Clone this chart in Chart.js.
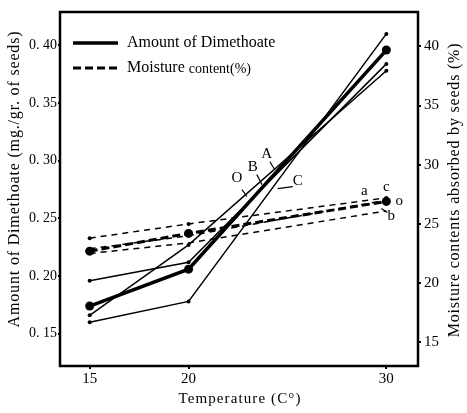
<!DOCTYPE html>
<html>
<head>
<meta charset="utf-8">
<script src="https://cdn.jsdelivr.net/npm/chart.js@4.4.1/dist/chart.umd.min.js"></script>
<style>
  html, body { margin: 0; padding: 0; background: #fff; }
  #wrap { width: 467px; height: 413px; }
</style>
</head>
<body>
<div id="wrap"><canvas id="chart"></canvas></div>
<script>
// temperatures (x) and readings
const temps = [15, 20, 30];

// Amount of Dimethoate (mg./gr. of seeds), left axis
const dimO = [0.166, 0.227, 0.378];
const dimA = [0.174, 0.206, 0.396];
const dimB = [0.196, 0.212, 0.384];
const dimC = [0.160, 0.178, 0.410];

// Moisture content (%), right axis
const moistA = [23.8, 25.0, 27.2];
const moistC = [22.9, 24.0, 27.0];
const moistO = [22.7, 24.2, 26.9];
const moistB = [22.5, 23.4, 26.1];

const xTicks = [15, 20, 30];
const leftTicks = [0.15, 0.20, 0.25, 0.30, 0.35, 0.40];
const rightTicks = [15, 20, 25, 30, 35, 40];

// letter marks next to the curves (x, left-axis value)
const curveLetters = [
  { t: 'O', x: 22.45, y: 0.2853, lx: [22.70, 22.95], ly: [0.275, 0.269] },
  { t: 'B', x: 23.25, y: 0.2948, lx: [23.45, 23.71], ly: [0.288, 0.2793] },
  { t: 'A', x: 23.95, y: 0.3060, lx: [24.11, 24.36], ly: [0.2991, 0.2922] },
  { t: 'C', x: 25.52, y: 0.2820, lx: [25.27, 24.51], ly: [0.2776, 0.2759] },
  { t: 'a', x: 28.89, y: 0.2733 },
  { t: 'c', x: 30.00, y: 0.2776 },
  { t: 'o', x: 30.65, y: 0.2647 },
  { t: 'b', x: 30.25, y: 0.2517, lx: [30.05, 29.75], ly: [0.2552, 0.2586] },
];

const SERIF = '"Liberation Serif", "DejaVu Serif", serif';

const pts = arr => arr.map((v, i) => ({ x: temps[i], y: v }));

function series(data, axis, width, radius, dash) {
  return {
    data: pts(data),
    yAxisID: axis,
    borderColor: '#000',
    backgroundColor: '#000',
    borderWidth: width,
    borderDash: dash || [],
    pointRadius: radius,
    pointBorderWidth: 0,
    pointBackgroundColor: '#000',
    tension: 0,
    fill: false,
  };
}

const framePlugin = {
  id: 'frame',
  afterDraw(chart) {
    const { ctx, chartArea: a, scales } = chart;
    ctx.save();
    ctx.strokeStyle = '#000';
    ctx.lineWidth = 2.5;
    ctx.strokeRect(a.left, a.top, a.right - a.left, a.bottom - a.top);

    // legend
    ctx.lineWidth = 3.5;
    ctx.setLineDash([]);
    ctx.beginPath(); ctx.moveTo(73, 43); ctx.lineTo(118, 43); ctx.stroke();
    ctx.lineWidth = 3;
    ctx.setLineDash([8, 4]);
    ctx.beginPath(); ctx.moveTo(73, 68); ctx.lineTo(118, 68); ctx.stroke();
    ctx.setLineDash([]);
    ctx.fillStyle = '#000';
    ctx.textAlign = 'left';
    ctx.textBaseline = 'middle';
    ctx.font = '16px ' + SERIF;
    ctx.fillText('Amount of Dimethoate', 127, 43);
    ctx.fillText('Moisture', 127, 68);
    const mw = ctx.measureText('Moisture ').width;
    ctx.font = '14px ' + SERIF;
    ctx.fillText('content(%)', 127 + mw, 69);

    // curve letters
    ctx.font = '15px ' + SERIF;
    ctx.textAlign = 'center';
    ctx.lineWidth = 1.2;
    curveLetters.forEach(l => {
      ctx.fillText(l.t, scales.x.getPixelForValue(l.x), scales.y.getPixelForValue(l.y));
      if (l.lx) {
        ctx.beginPath();
        ctx.moveTo(scales.x.getPixelForValue(l.lx[0]), scales.y.getPixelForValue(l.ly[0]));
        ctx.lineTo(scales.x.getPixelForValue(l.lx[1]), scales.y.getPixelForValue(l.ly[1]));
        ctx.stroke();
      }
    });

    // axis titles
    const spaced = (text, cx, cy, rot, target, size) => {
      ctx.save();
      ctx.font = size + 'px ' + SERIF;
      ctx.letterSpacing = '0px';
      const w = ctx.measureText(text).width;
      const sp = Math.max(0, (target - w) / (text.length - 1));
      ctx.letterSpacing = sp.toFixed(2) + 'px';
      ctx.translate(cx, cy);
      ctx.rotate(rot);
      ctx.textAlign = 'center';
      ctx.textBaseline = 'middle';
      ctx.fillText(text, 0, 0);
      ctx.restore();
    };
    spaced('Amount of Dimethoate (mg./gr. of seeds)', 15, 179, -Math.PI / 2, 296, 16);
    spaced('Moisture contents absorbed by seeds (%)', 455, 190, -Math.PI / 2, 294, 16);
    spaced('Temperature (C°)', 240, 399, 0, 122, 15);
    ctx.restore();
  }
};

new Chart(document.getElementById('chart'), {
  type: 'line',
  data: {
    datasets: [
      series(dimO, 'y', 1.5, 2),
      series(dimA, 'y', 3.5, 4.5),
      series(dimB, 'y', 1.5, 2),
      series(dimC, 'y', 1.5, 2),
      series(moistA, 'y2', 1.5, 2, [6, 5]),
      series(moistC, 'y2', 1.5, 0, [6, 5]),
      series(moistO, 'y2', 3, 4.5, [8, 4]),
      series(moistB, 'y2', 1.5, 0, [6, 5]),
    ]
  },
  options: {
    responsive: true,
    maintainAspectRatio: false,
    animation: false,
    layout: { padding: { top: 9, left: 0, right: 0, bottom: 0 } },
    plugins: { legend: { display: false }, tooltip: { enabled: false } },
    scales: {
      x: {
        type: 'linear', min: 13.5, max: 31.6,
        afterBuildTicks: s => { s.ticks = xTicks.map(v => ({ value: v })); },
        afterFit: s => { s.height = 47; },
        ticks: { color: '#000', font: { family: SERIF, size: 15 }, padding: 1, maxRotation: 0 },
        grid: { drawOnChartArea: false, tickLength: 3, color: '#000', lineWidth: 2 },
        border: { display: false },
      },
      y: {
        position: 'left', min: 0.122, max: 0.429,
        afterBuildTicks: s => { s.ticks = leftTicks.map(v => ({ value: v })); },
        afterFit: s => { s.width = 60; },
        ticks: { color: '#000', font: { family: SERIF, size: 14 }, padding: 1,
                 callback: v => v.toFixed(2).replace('.', '. ') },
        grid: { drawOnChartArea: false, tickLength: 2, color: '#000', lineWidth: 2 },
        border: { display: false },
      },
      y2: {
        position: 'right', min: 13, max: 42.9,
        afterBuildTicks: s => { s.ticks = rightTicks.map(v => ({ value: v })); },
        afterFit: s => { s.width = 49; },
        ticks: { color: '#000', font: { family: SERIF, size: 15 }, padding: 3 },
        grid: { drawOnChartArea: false, tickLength: 3, color: '#000', lineWidth: 2 },
        border: { display: false },
      }
    }
  },
  plugins: [framePlugin]
});
</script>
</body>
</html>
